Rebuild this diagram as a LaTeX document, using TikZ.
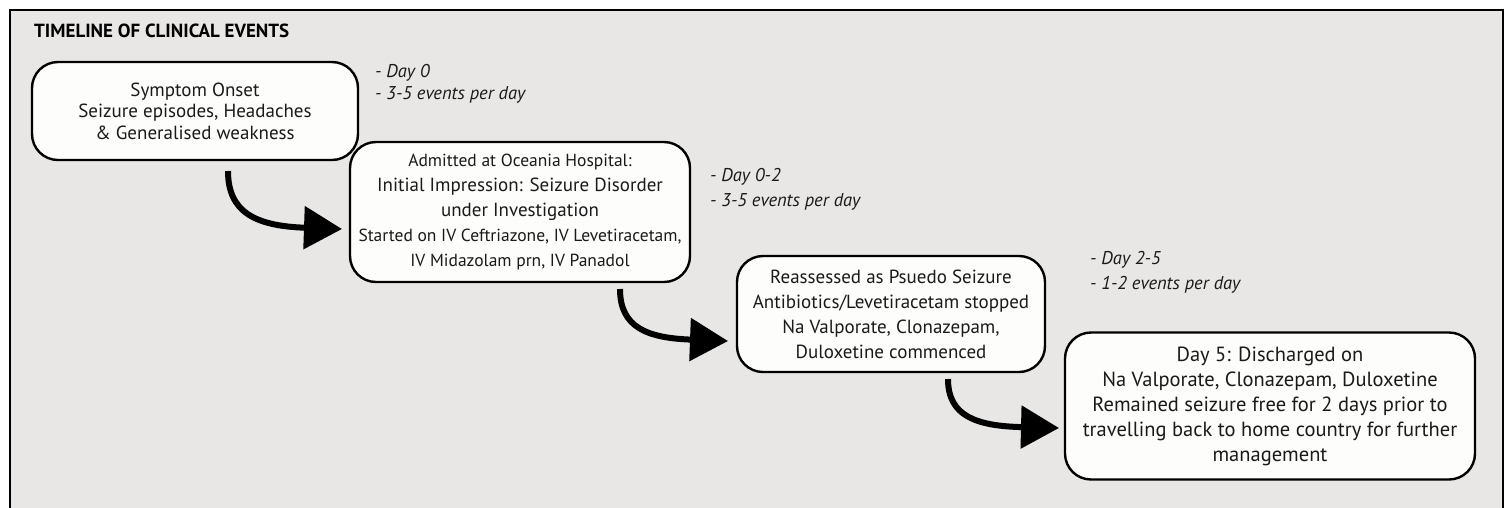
\documentclass[tikz,border=0pt]{standalone}
\usepackage{fontspec}
\setmainfont{PT Sans}
\usetikzlibrary{arrows.meta}
\definecolor{bg}{HTML}{E9E7E5}
\definecolor{boxfill}{HTML}{FDFDFC}
\definecolor{ink}{HTML}{1A1A1A}
\tikzset{
  event/.style={draw=black, line width=2.4pt, rounded corners=26pt, fill=boxfill,
    align=center, inner sep=0pt, text=ink},
  note/.style={anchor=base west, align=left, inner sep=0pt, text=ink},
  flow/.style={line width=6pt, -{Triangle[length=38pt,width=42pt]}},
  titletext/.style={anchor=west, inner sep=0pt, font=\fontsize{19}{22}\selectfont\bfseries}
}
\newcommand{\bigline}{\fontsize{19}{25}\selectfont}
\begin{document}
\begin{tikzpicture}[x=1pt,y=-1pt]
\useasboundingbox (0,0) rectangle (1511,507);
\clip (0,0) rectangle (1511,507);
\fill[white] (0,0) rectangle (1511,507);
\draw[line width=2.5pt, fill=bg] (10,10) rectangle (1503,530);

\node[titletext] (title) at (34,31) {TIMELINE OF CLINICAL EVENTS};

\node[event, minimum width=326pt, minimum height=98pt,
  font=\fontsize{19}{21.5}\selectfont] (b1) at (195,111)
  {Symptom Onset\\Seizure episodes, Headaches\\\& Generalised weakness};

\node[event, minimum width=340pt, minimum height=140pt,
  font=\fontsize{17.5}{25}\selectfont] (b2) at (520,212)
  {Admitted at Oceania Hospital:\\
   \bigline Initial Impression: Seizure Disorder\\
   \bigline under Investigation\\
   Started on IV Ceftriazone, IV Levetiracetam,\\
   IV Midazolam prn, IV Panadol};

\node[event, minimum width=308pt, minimum height=116pt,
  font=\fontsize{19}{25}\selectfont] (b3) at (891,314)
  {Reassessed as Psuedo Seizure\\
   Antibiotics/Levetiracetam stopped\\
   Na Valporate, Clonazepam,\\
   Duloxetine commenced};

\node[event, minimum width=410pt, minimum height=147pt,
  font=\fontsize{20.5}{25}\selectfont] (b4) at (1270,406)
  {Day 5: Discharged on\\
   Na Valporate, Clonazepam, Duloxetine\\
   Remained seizure free for 2 days prior to\\
   travelling back to home country for further\\
   management};

\node[note, font=\fontsize{18.5}{22}\selectfont\itshape] (n1) at (375,99) {- Day 0\\- 3-5 events per day};
\node[note, font=\fontsize{18.5}{25}\selectfont\itshape] (n2) at (710,206) {- Day 0-2\\- 3-5 events per day};
\node[note, font=\fontsize{18.5}{25}\selectfont\itshape] (n3) at (1090,289) {- Day 2-5\\- 1-2 events per day};

\coordinate (a1s) at (228,171);
\coordinate (a1e) at (342,229);
\coordinate (a2s) at (620,289);
\coordinate (a2e) at (728,341);
\coordinate (a3s) at (948,379);
\coordinate (a3e) at (1059,428);

\draw[flow] (a1s) .. controls (228,212) and (255,226) .. (a1e);
\draw[flow] (a2s) .. controls (620,328) and (648,338) .. (a2e);
\draw[flow] (a3s) .. controls (948,416) and (976,426) .. (a3e);
\end{tikzpicture}
\end{document}
